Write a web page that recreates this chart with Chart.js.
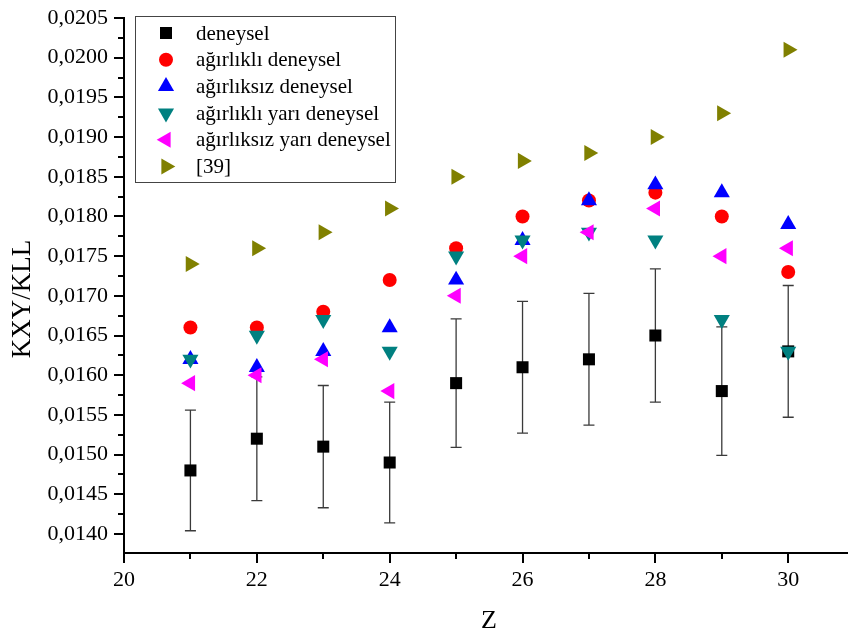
<!DOCTYPE html>
<html lang="tr">

<head>
  <meta charset="utf-8" />
  <title>KXY/KLL - Z</title>
  <script src="https://cdn.jsdelivr.net/npm/chart.js@4.4.1/dist/chart.umd.min.js"></script>
  <style>
    body { margin: 0; background: #fff; }
  </style>
</head>

<body>
  <canvas id="chart" width="848" height="637"></canvas>
  <script>
    // Z values (x axis)
    const zValues = [21, 22, 23, 24, 25, 26, 27, 28, 29, 30];

    // series
    const deneysel = [0.0148, 0.0152, 0.0151, 0.0149, 0.0159, 0.0161, 0.0162, 0.0165, 0.0158, 0.0163];
    const deneyselHata = [0.00076, 0.00078, 0.00077, 0.00076, 0.00081, 0.00083, 0.00083, 0.00084, 0.00081, 0.00083];
    const agirlikliDeneysel = [0.0166, 0.0166, 0.0168, 0.0172, 0.0176, 0.0180, 0.0182, 0.0183, 0.0180, 0.0173];
    const agirliksizDeneysel = [0.0162, 0.0161, 0.0163, 0.0166, 0.0172, 0.0177, 0.0182, 0.0184, 0.0183, 0.0179];
    const agirlikliYari = [0.0162, 0.0165, 0.0167, 0.0163, 0.0175, 0.0177, 0.0178, 0.0177, 0.0167, 0.0163];
    const agirliksizYari = [0.0159, 0.0160, 0.0162, 0.0158, 0.0170, 0.0175, 0.0178, 0.0181, 0.0175, 0.0176];
    const ref39 = [0.0174, 0.0176, 0.0178, 0.0181, 0.0185, 0.0187, 0.0188, 0.0190, 0.0193, 0.0201];

    const seriesNames = ['deneysel', 'ağırlıklı deneysel', 'ağırlıksız deneysel',
      'ağırlıklı yarı deneysel', 'ağırlıksız yarı deneysel', '[39]'];

    const FONT = "'Liberation Serif', 'Times New Roman', serif";

    function toPoints(arr) {
      return arr.map((v, i) => ({ x: zValues[i], y: v }));
    }

    function makeSet(i, values, color, style, radius, rotation) {
      return {
        label: seriesNames[i],
        data: toPoints(values),
        showLine: false,
        pointStyle: style,
        pointRadius: radius,
        pointRotation: rotation,
        pointBorderWidth: 0,
        backgroundColor: color,
        borderColor: color,
        order: 6 - i // later series on top, like the original
      };
    }

    const datasets = [
      makeSet(0, deneysel, '#000000', 'rect', 8.5, 0),
      makeSet(1, agirlikliDeneysel, '#ff0000', 'circle', 7, 0),
      makeSet(2, agirliksizDeneysel, '#0000ff', 'triangle', 9.3, 0),
      makeSet(3, agirlikliYari, '#008080', 'triangle', 9.3, 180),
      makeSet(4, agirliksizYari, '#ff00ff', 'triangle', 9.3, -90),
      makeSet(5, ref39, '#808000', 'triangle', 9.3, 90)
    ];

    // error bars of the first series
    const errorBars = {
      id: 'errorBars',
      beforeDatasetsDraw(chart) {
        const ctx = chart.ctx;
        const xs = chart.scales.x, ys = chart.scales.y;
        ctx.save();
        ctx.strokeStyle = '#3a3a3a';
        ctx.lineWidth = 1.3;
        deneysel.forEach((v, i) => {
          const px = xs.getPixelForValue(zValues[i]);
          const top = ys.getPixelForValue(v + deneyselHata[i]);
          const bot = ys.getPixelForValue(v - deneyselHata[i]);
          ctx.beginPath();
          ctx.moveTo(px, top); ctx.lineTo(px, bot);
          ctx.moveTo(px - 5.5, top); ctx.lineTo(px + 5.5, top);
          ctx.moveTo(px - 5.5, bot); ctx.lineTo(px + 5.5, bot);
          ctx.stroke();
        });
        ctx.restore();
      }
    };

    // outward major/minor tick marks, axis titles and the boxed legend
    const decorations = {
      id: 'decorations',
      afterDraw(chart) {
        const ctx = chart.ctx;
        const xs = chart.scales.x, ys = chart.scales.y;
        const area = chart.chartArea;
        ctx.save();
        ctx.strokeStyle = '#000';
        ctx.lineWidth = 2;
        ctx.beginPath();
        xs.ticks.forEach(t => {
          const px = Math.round(xs.getPixelForValue(t.value));
          const len = t.label !== '' ? 10 : 6;
          ctx.moveTo(px, area.bottom); ctx.lineTo(px, area.bottom + len);
        });
        ys.ticks.forEach(t => {
          const py = Math.round(ys.getPixelForValue(t.value));
          const len = t.label !== '' ? 10 : 6;
          ctx.moveTo(area.left, py); ctx.lineTo(area.left - len, py);
        });
        ctx.stroke();

        // axis titles
        ctx.fillStyle = '#000';
        ctx.textAlign = 'center';
        ctx.textBaseline = 'middle';
        ctx.font = '27px ' + FONT;
        ctx.save();
        ctx.translate(23, 299);
        ctx.rotate(-Math.PI / 2);
        ctx.fillText('KXY/KLL', 0, 0);
        ctx.restore();
        ctx.font = '26px ' + FONT;
        ctx.fillText('Z', 489, 621);

        // legend
        ctx.lineWidth = 1;
        ctx.strokeStyle = '#444';
        ctx.strokeRect(135.5, 16.5, 260, 166);
        ctx.font = '21px ' + FONT;
        ctx.textAlign = 'left';
        chart.data.datasets.forEach((ds, i) => {
          const y = 33 + i * 26.7;
          ctx.fillStyle = ds.backgroundColor;
          ctx.strokeStyle = ds.backgroundColor;
          Chart.helpers.drawPoint(ctx, {
            pointStyle: ds.pointStyle,
            radius: ds.pointRadius,
            rotation: ds.pointRotation,
            borderWidth: 0
          }, 166, y);
          ctx.fillStyle = '#000';
          ctx.fillText(ds.label, 196, y + 1);
        });
        ctx.restore();
      }
    };

    new Chart(document.getElementById('chart'), {
      type: 'scatter',
      data: { datasets: datasets },
      options: {
        responsive: false,
        animation: false,
        events: [],
        layout: { autoPadding: false, padding: { top: 18, left: 0, right: 0, bottom: 0 } },
        plugins: {
          legend: { display: false },
          tooltip: { enabled: false }
        },
        scales: {
          x: {
            type: 'linear',
            min: 20,
            max: 30.9,
            grid: { display: false, drawTicks: false },
            border: { display: true, color: '#000', width: 2 },
            ticks: {
              stepSize: 1,
              includeBounds: false,
              autoSkip: false,
              maxRotation: 0,
              padding: 14,
              color: '#000',
              font: { family: FONT, size: 22 },
              callback: v => (v % 2 === 0 ? String(v) : '')
            },
            afterFit: s => { s.height = 84; s.paddingLeft = 0; s.paddingRight = 0; }
          },
          y: {
            min: 0.01376,
            max: 0.0205,
            grid: { display: false, drawTicks: false },
            border: { display: true, color: '#000', width: 2 },
            ticks: {
              stepSize: 0.00025,
              includeBounds: false,
              autoSkip: false,
              padding: 16,
              color: '#000',
              font: { family: FONT, size: 22 },
              callback: v => (Math.round(v * 100000) % 50 === 0 ? v.toFixed(4).replace('.', ',') : '')
            },
            afterFit: s => { s.width = 124; s.paddingTop = 0; s.paddingBottom = 0; }
          }
        }
      },
      plugins: [errorBars, decorations]
    });
  </script>
</body>

</html>
